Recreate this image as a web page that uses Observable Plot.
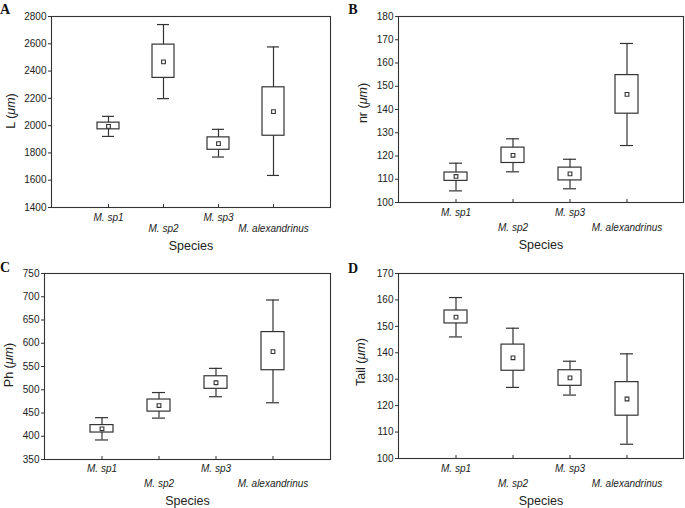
<!DOCTYPE html>
<html><head><meta charset="utf-8">
<script src="https://cdn.jsdelivr.net/npm/d3@7"></script>
<script src="https://cdn.jsdelivr.net/npm/@observablehq/plot@0.6"></script>
<style>
body{margin:0;background:#fff;}
#wrap{position:relative;width:685px;height:508px;background:#fff;}
#wrap svg{position:absolute;overflow:visible;}
</style></head><body><div id="wrap"></div>
<script>
const species = ["M. sp1", "M. sp2", "M. sp3", "M. alexandrinus"];

// Panel A: L (µm)
const L_min  = [1921, 2198, 1770, 1635];
const L_q1   = [1973, 2350, 1823, 1926];
const L_mean = [1995, 2467, 1868, 2103];
const L_q3   = [2022, 2594, 1914, 2281];
const L_max  = [2068, 2741, 1973, 2577];
const L_ticks = [1400, 1600, 1800, 2000, 2200, 2400, 2600, 2800];

// Panel B: nr (µm)
const nr_min  = [105.0, 113.2, 105.9, 124.5];
const nr_q1   = [109.3, 117.0, 109.5, 138.2];
const nr_mean = [111.2, 120.3, 112.3, 146.5];
const nr_q3   = [112.9, 123.6, 115.0, 154.8];
const nr_max  = [116.9, 127.4, 118.6, 168.4];
const nr_ticks = [100, 110, 120, 130, 140, 150, 160, 170, 180];

// Panel C: Ph (µm)
const Ph_min  = [392, 439, 485, 472];
const Ph_q1   = [408, 453, 502, 542];
const Ph_mean = [416, 466, 515, 582];
const Ph_q3   = [424, 479, 529, 624];
const Ph_max  = [440, 494, 546, 693];
const Ph_ticks = [350, 400, 450, 500, 550, 600, 650, 700, 750];

// Panel D: Tail (µm)
const T_min  = [146.0, 126.9, 124.0, 105.4];
const T_q1   = [151.1, 133.2, 127.5, 116.2];
const T_mean = [153.5, 138.1, 130.5, 122.5];
const T_q3   = [156.0, 143.1, 133.4, 128.9];
const T_max  = [160.9, 149.3, 136.8, 139.6];
const T_ticks = [100, 110, 120, 130, 140, 150, 160, 170];

const panels = [
  {letter:"A", label:"L", min:L_min, q1:L_q1, mean:L_mean, q3:L_q3, max:L_max, ticks:L_ticks,
   left:0, top:0, w:342, h:254, ml:51, mr:12, mt:16, mb:47, p1:6, p2:17.5, sp:38, lx:11, ly:111, ax:5, ay:14},
  {letter:"B", label:"nr", min:nr_min, q1:nr_q1, mean:nr_mean, q3:nr_q3, max:nr_max, ticks:nr_ticks,
   left:342, top:0, w:343, h:254, ml:56, mr:2, mt:16, mb:52, p1:6, p2:21.5, sp:42.5, lx:21, ly:103, ax:11, ay:14},
  {letter:"C", label:"Ph", min:Ph_min, q1:Ph_q1, mean:Ph_mean, q3:Ph_q3, max:Ph_max, ticks:Ph_ticks,
   left:0, top:254, w:342, h:254, ml:44, mr:12, mt:19, mb:49, p1:5.5, p2:20.5, sp:41.5, lx:9, ly:111, ax:5, ay:18},
  {letter:"D", label:"Tail", min:T_min, q1:T_q1, mean:T_mean, q3:T_q3, max:T_max, ticks:T_ticks,
   left:342, top:254, w:343, h:254, ml:56, mr:2, mt:19, mb:50, p1:6, p2:21, sp:42.5, lx:19, ly:108, ax:11, ay:19}
];

const INK = "#333";
const wrap = document.getElementById("wrap");

for (const cfg of panels) {
  const data = species.map((s, i) => ({s, min: cfg.min[i], q1: cfg.q1[i], mean: cfg.mean[i], q3: cfg.q3[i], max: cfg.max[i]}));
  const domain = [cfg.ticks[0], cfg.ticks[cfg.ticks.length - 1]];
  const svg = Plot.plot({
    width: cfg.w, height: cfg.h,
    marginLeft: cfg.ml, marginRight: cfg.mr, marginTop: cfg.mt, marginBottom: cfg.mb,
    style: {fontFamily: "'Liberation Sans', Arial, sans-serif", background: "white", color: "#222", overflow: "visible"},
    x: {type: "band", domain: species, paddingInner: 0.6, paddingOuter: 0.8, axis: null},
    y: {domain, axis: null},
    marks: [
      Plot.axisY(cfg.ticks, {tickSize: 3, tickPadding: 2, fontSize: 10, label: null, tickFormat: d => String(d), stroke: INK}),
      Plot.axisX(species, {tickSize: 3, dy: -3, tickFormat: () => "", label: null, stroke: INK}),
      Plot.axisX([species[0], species[2]], {tickSize: 0, tickPadding: cfg.p1, fontSize: 10, fontStyle: "italic", label: null}),
      Plot.axisX([species[1], species[3]], {tickSize: 0, tickPadding: cfg.p2, fontSize: 10, fontStyle: "italic", label: null}),
      Plot.ruleX(data, {x: "s", y1: "min", y2: "max", stroke: INK, strokeWidth: 1.2}),
      Plot.barY(data, {x: "s", y1: "q1", y2: "q3", fill: "white", stroke: INK, strokeWidth: 1.2}),
      Plot.tickY(data, {x: "s", y: "min", insetLeft: 5, insetRight: 5, stroke: INK, strokeWidth: 1.2}),
      Plot.tickY(data, {x: "s", y: "max", insetLeft: 5, insetRight: 5, stroke: INK, strokeWidth: 1.2}),
      Plot.dot(data, {x: "s", y: "mean", symbol: "square", r: 2.1, fill: "white", stroke: INK, strokeWidth: 1.1}),
      Plot.frame({stroke: INK, strokeWidth: 1.1}),
      Plot.text(["Species"], {text: d => d, frameAnchor: "bottom", dy: cfg.sp, fontSize: 12.5, lineAnchor: "middle", fill: "#222"})
    ]
  });
  svg.style.left = cfg.left + "px";
  svg.style.top = cfg.top + "px";
  const s = d3.select(svg);
  const t = s.append("text")
    .attr("transform", `translate(${cfg.lx},${cfg.ly}) rotate(-90)`)
    .attr("text-anchor", "middle")
    .attr("dominant-baseline", "central")
    .attr("font-size", 12.5)
    .attr("fill", "#222")
    .attr("font-family", "'Liberation Sans', Arial, sans-serif");
  t.append("tspan").text(cfg.label + " (");
  t.append("tspan").attr("font-style", "italic").text("\u03bcm");
  t.append("tspan").text(")");
  s.append("text")
    .attr("x", cfg.ax).attr("y", cfg.ay)
    .attr("font-family", "'Liberation Serif', 'Times New Roman', serif")
    .attr("font-weight", "bold")
    .attr("font-size", 14)
    .attr("fill", "#111")
    .text(cfg.letter);
  wrap.appendChild(svg);
}
</script>
</body></html>
